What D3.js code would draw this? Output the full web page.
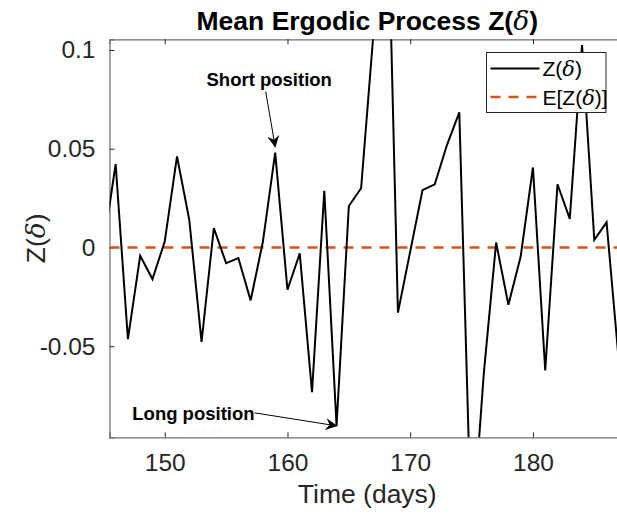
<html>
<head>
<script src="https://d3js.org/d3.v7.min.js"></script>
<style>
  body { margin: 0; background: #fff; }
  text { font-family: "Liberation Sans", Arial, sans-serif; }
  .tick text { font-size: 24.5px; fill: #262626; }
</style>
</head>
<body>
<div id="chart"></div>
<script>
// data
var days = [145,146,147,148,149,150,151,152,153,154,155,156,157,158,159,160,161,162,163,164,165,166,
            167,168,169,170,171,172,173,174,175,176,177,178,179,180,181,182,183,184,185,186,187];
var zValues = [0.000,0.0422,-0.0464,-0.0042,-0.016,0.003,0.0461,0.014,-0.0478,0.0098,-0.0079,-0.0054,-0.0268,0.003,0.048,-0.0214,-0.003,-0.0733,0.0287,-0.0903,0.021,0.030,
               0.108,0.22,-0.033,-0.002,0.029,0.032,0.052,0.0684,-0.149,-0.0635,0.0025,-0.029,-0.0046,0.0405,-0.0623,0.032,0.0145,0.1025,0.0039,0.0127,-0.058];
var meanValue = 0;
var xTicks = [150,160,170,180];
var yTicks = [-0.05,0,0.05,0.1];
var yTickLabels = ["-0.05","0","0.05","0.1"];
var legendLabels = ["Z(", "E[Z("];

var W = 617, H = 514;
var pLeft = 109.5, pRight = 625, pTop = 39.3, pBottom = 437.3;

var svg = d3.select("#chart").append("svg").attr("width", W).attr("height", H);

var x = d3.scaleLinear().domain([145.5, 187.5]).range([pLeft, pRight]);
var y = d3.scaleLinear().domain([-0.0961, 0.1054]).range([pBottom, pTop]);

svg.append("clipPath").attr("id", "plotclip")
  .append("rect").attr("x", pLeft).attr("y", pTop).attr("width", pRight - pLeft).attr("height", pBottom - pTop);

// axes (MATLAB style, ticks inside)
var xAxis = d3.axisBottom(x).tickValues(xTicks).tickSize(-5).tickPadding(12).tickFormat(d3.format("d"));
var xTop = d3.axisTop(x).tickValues(xTicks).tickSize(-5).tickFormat("");
var yAxis = d3.axisLeft(y).tickValues(yTicks).tickSize(-5).tickPadding(14)
  .tickFormat(function(d, i){ return yTickLabels[i]; });

var gx = svg.append("g").attr("transform", "translate(0," + pBottom + ")").call(xAxis);
var gt = svg.append("g").attr("transform", "translate(0," + pTop + ")").call(xTop);
var gy = svg.append("g").attr("transform", "translate(" + pLeft + ",0)").call(yAxis);
[gx, gt, gy].forEach(function(g){
  g.select(".domain").attr("stroke", "#6e6e6e").attr("stroke-width", 1.2);
  g.selectAll(".tick line").attr("stroke", "#262626");
});
gx.selectAll(".tick text").attr("dy", "0.9em");

// zero mean dashed line
svg.append("line")
  .attr("x1", pLeft).attr("x2", pRight)
  .attr("y1", y(meanValue)).attr("y2", y(meanValue))
  .attr("stroke", "#D95319").attr("stroke-width", 2.5)
  .attr("stroke-dasharray", "10,8")
  .attr("clip-path", "url(#plotclip)");

// Z series
var line = d3.line().x(function(d, i){ return x(days[i]); }).y(function(d){ return y(d); });
svg.append("path").datum(zValues)
  .attr("d", line)
  .attr("fill", "none").attr("stroke", "#000").attr("stroke-width", 2)
  .attr("clip-path", "url(#plotclip)");

// title and labels
var title = svg.append("text").attr("x", (pLeft + pRight) / 2).attr("y", 30)
  .attr("text-anchor", "middle").attr("font-size", 26.5).attr("font-weight", "bold").attr("fill", "#000");
title.append("tspan").text("Mean Ergodic Process Z(");
title.append("tspan").attr("font-family", "DejaVu Serif").attr("font-style", "italic").attr("font-weight", "normal").text("δ");
title.append("tspan").text(")");

svg.append("text").attr("x", (pLeft + pRight) / 2).attr("y", 503)
  .attr("text-anchor", "middle").attr("font-size", 26.5).attr("fill", "#262626").text("Time (days)");

var yl = svg.append("text").attr("transform", "translate(45," + ((pTop + pBottom) / 2) + ") rotate(-90)")
  .attr("text-anchor", "middle").attr("font-size", 26.5).attr("fill", "#262626");
yl.append("tspan").text("Z(");
yl.append("tspan").attr("font-family", "DejaVu Serif").attr("font-style", "italic").text("δ");
yl.append("tspan").text(")");

// annotations
svg.append("defs").append("marker").attr("id", "head")
  .attr("viewBox", "0 0 12 12").attr("refX", 11).attr("refY", 6)
  .attr("markerWidth", 12).attr("markerHeight", 12).attr("markerUnits", "userSpaceOnUse")
  .attr("orient", "auto")
  .append("path").attr("d", "M0,0 L12,6 L0,12 L4,6 Z").attr("fill", "#000");

var shortTip = [x(159), y(0.048) - 6];
svg.append("line").attr("x1", shortTip[0] - 9.5).attr("y1", shortTip[1] - 55)
  .attr("x2", shortTip[0]).attr("y2", shortTip[1])
  .attr("stroke", "#000").attr("stroke-width", 1).attr("marker-end", "url(#head)");
svg.append("text").attr("x", shortTip[0] - 6).attr("y", shortTip[1] - 61)
  .attr("text-anchor", "middle").attr("font-size", 18.5).attr("font-weight", "bold").text("Short position");

var longTip = [x(164), y(-0.0903)];
svg.append("line").attr("x1", longTip[0] - 82).attr("y1", longTip[1] - 13)
  .attr("x2", longTip[0]).attr("y2", longTip[1])
  .attr("stroke", "#000").attr("stroke-width", 1).attr("marker-end", "url(#head)");
svg.append("text").attr("x", longTip[0] - 82).attr("y", longTip[1] - 6)
  .attr("text-anchor", "end").attr("font-size", 18.5).attr("font-weight", "bold").text("Long position");

// legend
var lg = svg.append("g").attr("transform", "translate(486.5,52.5)");
lg.append("rect").attr("width", 119.5).attr("height", 60).attr("fill", "#fff").attr("stroke", "#262626").attr("stroke-width", 1);
legendLabels.forEach(function(lab, i){
  var ly = 16 + i * 28.5;
  lg.append("line").attr("x1", 4).attr("x2", 53).attr("y1", ly).attr("y2", ly)
    .attr("stroke", i === 0 ? "#000" : "#D95319").attr("stroke-width", i === 0 ? 2 : 2.5)
    .attr("stroke-dasharray", i === 0 ? null : "10,8");
  var t = lg.append("text").attr("x", 56).attr("y", ly + 7.5).attr("font-size", 21).attr("fill", "#000");
  t.append("tspan").text(lab);
  t.append("tspan").attr("font-family", "DejaVu Serif").attr("font-style", "italic").text("δ");
  t.append("tspan").text(i === 0 ? ")" : ")]");
});
</script>
</body>
</html>
